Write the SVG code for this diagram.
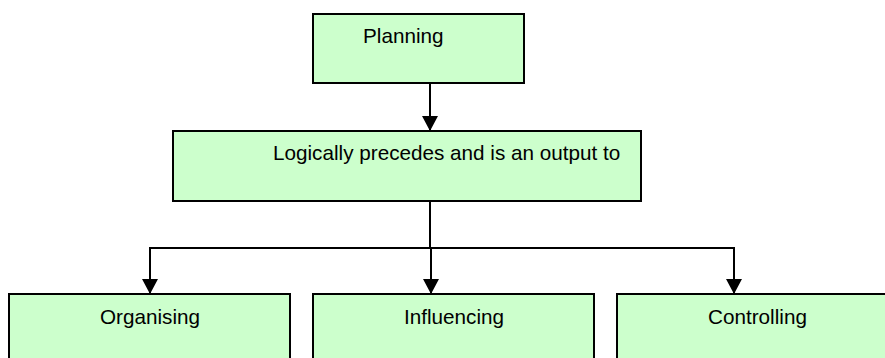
<svg xmlns="http://www.w3.org/2000/svg" width="885" height="358" viewBox="0 0 885 358">
  <style>
    .box { fill: #ccffcc; stroke: #000; stroke-width: 2; }
    .label { font-family: "Liberation Sans", Arial, sans-serif; font-size: 20.7px; fill: #000; }
    .link { fill: none; stroke: #000; stroke-width: 2; }
  </style>
  <defs>
    <marker id="arrow" markerUnits="userSpaceOnUse" markerWidth="16" markerHeight="16" refX="15" refY="8" orient="auto">
      <path d="M0,0 L15,8 L0,16 Z" fill="#000"/>
    </marker>
  </defs>
  <rect width="885" height="358" fill="#fff"/>

  <g id="connectors">
    <line class="link" x1="430" y1="83" x2="430" y2="131" marker-end="url(#arrow)"/>
    <line class="link" x1="430" y1="201" x2="430" y2="248"/>
    <line class="link" x1="149" y1="248" x2="735" y2="248"/>
    <line class="link" x1="150" y1="248" x2="150" y2="294" marker-end="url(#arrow)"/>
    <line class="link" x1="431" y1="248" x2="431" y2="294" marker-end="url(#arrow)"/>
    <line class="link" x1="734" y1="248" x2="734" y2="294" marker-end="url(#arrow)"/>
  </g>

  <g id="planning">
    <rect class="box" x="313" y="14" width="211" height="69"/>
    <text class="label" x="363" y="43">Planning</text>
  </g>

  <g id="precedes">
    <rect class="box" x="173" y="131" width="468" height="70"/>
    <text class="label" x="273" y="160">Logically precedes and is an output to</text>
  </g>

  <g id="organising">
    <rect class="box" x="9" y="294" width="281" height="80"/>
    <text class="label" x="100" y="324">Organising</text>
  </g>

  <g id="influencing">
    <rect class="box" x="313" y="294" width="281" height="80"/>
    <text class="label" x="404" y="324">Influencing</text>
  </g>

  <g id="controlling">
    <rect class="box" x="617" y="294" width="290" height="80"/>
    <text class="label" x="708" y="324">Controlling</text>
  </g>
</svg>
